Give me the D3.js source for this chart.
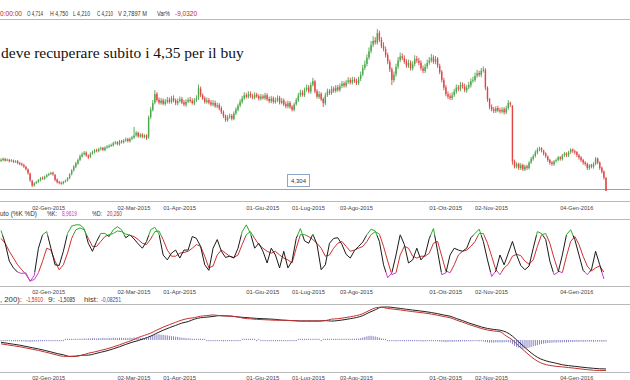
<!DOCTYPE html>
<html><head><meta charset="utf-8">
<script src="https://cdn.jsdelivr.net/npm/d3@7"></script>
<style>
html,body{margin:0;padding:0;background:#fff;overflow:hidden}
svg{display:block}
</style></head><body>
<svg id="c" width="630" height="380"></svg>
<script>
// ---- price data (one value per trading day) ----
const open=[5.38,5.40,5.44,5.40,5.41,5.37,5.38,5.34,5.36,5.29,
5.26,5.21,5.14,5.04,4.88,4.60,4.42,4.52,4.56,4.62,
4.72,4.68,4.75,4.83,4.87,4.91,4.83,4.65,4.56,4.53,
4.50,4.57,4.61,4.70,4.86,5.01,5.14,5.27,5.41,5.54,
5.63,5.69,5.57,5.52,5.66,5.71,5.79,5.75,5.83,5.87,
5.79,5.89,5.91,5.96,5.97,6.06,6.09,6.01,6.13,6.09,
6.16,6.21,6.13,6.23,6.27,6.36,6.46,6.31,6.39,6.29,
6.36,6.30,7.06,7.34,7.61,7.96,7.73,7.60,7.71,7.57,
7.65,7.73,7.64,7.79,7.71,7.59,7.69,7.76,7.63,7.54,
7.66,7.73,7.69,7.59,7.71,7.79,8.16,7.91,7.79,7.64,
7.71,7.63,7.54,7.61,7.47,7.53,7.41,7.26,7.11,6.94,
7.06,7.11,6.99,7.21,7.34,7.51,7.64,7.79,7.91,7.84,
7.96,7.87,7.81,7.93,7.87,7.77,7.86,7.79,7.91,7.76,
7.67,7.79,7.64,7.71,7.81,7.61,7.71,7.56,7.47,7.61,
7.46,7.34,7.56,7.71,7.91,8.01,7.91,8.11,8.21,8.04,
8.31,8.44,8.06,7.84,7.96,7.76,7.59,7.91,8.06,7.99,
8.16,8.07,8.21,8.11,8.26,8.36,8.27,8.41,8.49,8.39,
8.51,8.46,8.37,8.53,8.71,8.96,9.11,9.36,9.61,9.86,
10.02,9.94,10.31,10.04,9.81,9.69,9.46,9.19,8.91,8.49,
8.71,9.01,9.26,9.41,9.34,9.21,9.04,9.16,8.94,9.11,
9.31,9.24,9.16,8.94,8.84,9.01,9.16,9.24,9.36,9.19,
9.31,9.04,8.81,8.49,8.21,7.94,7.86,7.79,7.91,8.04,
8.21,8.14,8.31,8.24,8.09,8.21,8.29,8.46,8.49,8.66,
8.76,8.69,8.86,8.88,8.19,7.76,7.46,7.36,7.29,7.41,
7.33,7.27,7.36,7.24,7.41,7.61,7.50,5.36,5.14,5.26,
5.09,5.21,5.04,5.16,5.09,5.31,5.44,5.56,5.69,5.81,
5.86,5.77,5.66,5.54,5.41,5.31,5.24,5.36,5.41,5.51,
5.44,5.59,5.66,5.59,5.71,5.81,5.74,5.71,5.59,5.51,
5.41,5.31,5.26,5.09,5.21,5.14,5.26,5.46,5.31,5.11,
4.96,4.714];
const high=[5.47,5.50,5.49,5.46,5.45,5.44,5.42,5.40,5.40,5.33,
5.30,5.26,5.18,5.08,4.92,4.64,4.55,4.60,4.67,4.75,
4.77,4.80,4.87,4.91,4.95,4.96,4.86,4.69,4.60,4.57,
4.60,4.65,4.74,4.89,5.05,5.20,5.33,5.46,5.62,5.70,
5.75,5.74,5.62,5.70,5.77,5.83,5.84,5.88,5.92,5.91,
5.93,5.98,6.01,6.04,6.11,6.14,6.13,6.18,6.18,6.21,
6.27,6.26,6.28,6.34,6.68,6.52,6.50,6.44,6.44,6.40,
6.40,7.12,7.45,7.72,8.10,8.02,7.82,7.80,7.78,7.76,
7.84,7.82,7.88,7.90,7.78,7.78,7.86,7.84,7.72,7.75,
7.82,7.84,7.78,7.80,7.90,8.32,8.24,7.98,7.86,7.82,
7.80,7.72,7.72,7.70,7.62,7.60,7.48,7.32,7.16,7.14,
7.20,7.18,7.28,7.44,7.58,7.75,7.88,8.02,8.00,8.06,
8.05,7.96,8.02,8.00,7.94,7.95,7.94,8.00,7.98,7.85,
7.88,7.86,7.82,7.90,7.88,7.80,7.78,7.66,7.70,7.68,
7.52,7.62,7.80,8.00,8.12,8.10,8.20,8.32,8.30,8.40,
8.58,8.50,8.14,8.06,8.02,7.82,8.00,8.16,8.14,8.26,
8.24,8.30,8.30,8.36,8.46,8.44,8.50,8.60,8.58,8.62,
8.60,8.55,8.62,8.82,9.08,9.25,9.48,9.75,10.00,10.18,
10.15,10.46,10.40,10.15,9.95,9.78,9.55,9.28,8.98,8.82,
9.12,9.38,9.55,9.52,9.45,9.30,9.28,9.25,9.22,9.45,
9.42,9.35,9.25,9.05,9.12,9.28,9.38,9.50,9.45,9.42,
9.38,9.12,8.88,8.58,8.30,8.05,7.98,8.02,8.15,8.32,
8.30,8.42,8.40,8.35,8.30,8.42,8.55,8.62,8.78,8.88,
8.85,8.96,9.02,8.95,8.25,7.80,7.55,7.45,7.48,7.50,
7.42,7.45,7.44,7.50,7.72,7.66,7.52,5.42,5.32,5.30,
5.28,5.26,5.22,5.22,5.36,5.52,5.62,5.78,5.88,5.92,
5.90,5.80,5.70,5.58,5.45,5.36,5.40,5.46,5.56,5.55,
5.64,5.72,5.70,5.76,5.86,5.85,5.80,5.75,5.64,5.55,
5.45,5.36,5.30,5.25,5.26,5.32,5.52,5.50,5.35,5.15,
5.00,4.75];
const low=[5.33,5.36,5.34,5.36,5.31,5.33,5.29,5.30,5.24,5.20,
5.17,5.10,5.00,4.84,4.56,4.36,4.38,4.48,4.52,4.58,
4.64,4.64,4.72,4.79,4.83,4.80,4.58,4.50,4.47,4.45,
4.46,4.53,4.57,4.66,4.81,4.96,5.09,5.22,5.36,5.50,
5.58,5.53,5.44,5.48,5.61,5.66,5.70,5.70,5.78,5.75,
5.74,5.84,5.86,5.91,5.92,6.00,5.97,5.96,6.04,6.04,
6.11,6.08,6.08,6.17,6.22,6.30,6.26,6.26,6.24,6.24,
6.18,6.22,6.98,7.28,7.55,7.66,7.55,7.54,7.52,7.50,
7.58,7.58,7.58,7.63,7.52,7.52,7.62,7.56,7.48,7.46,
7.60,7.62,7.54,7.52,7.64,7.72,7.84,7.72,7.58,7.58,
7.55,7.48,7.48,7.42,7.40,7.32,7.18,7.02,6.88,6.88,
7.00,6.93,6.94,7.14,7.28,7.44,7.58,7.72,7.78,7.78,
7.80,7.75,7.74,7.80,7.70,7.70,7.74,7.72,7.68,7.60,
7.60,7.58,7.58,7.64,7.55,7.55,7.48,7.40,7.40,7.38,
7.28,7.28,7.50,7.64,7.84,7.85,7.84,8.04,7.98,7.96,
8.24,7.98,7.78,7.76,7.68,7.45,7.52,7.84,7.92,7.92,
8.00,8.00,8.04,8.04,8.18,8.20,8.20,8.34,8.32,8.32,
8.38,8.30,8.30,8.45,8.64,8.88,9.02,9.28,9.52,9.76,
9.86,9.86,9.96,9.72,9.60,9.36,9.10,8.80,8.30,8.40,
8.62,8.92,9.18,9.26,9.12,8.96,8.96,8.86,8.86,9.02,
9.16,9.06,8.86,8.76,8.76,8.92,9.08,9.16,9.12,9.10,
8.96,8.72,8.40,8.10,7.86,7.76,7.72,7.72,7.84,7.96,
8.06,8.06,8.16,8.02,8.00,8.14,8.20,8.38,8.42,8.58,
8.62,8.60,8.78,8.10,7.65,7.36,7.28,7.22,7.22,7.25,
7.20,7.20,7.16,7.18,7.34,7.46,5.22,5.08,5.08,5.02,
5.02,4.98,4.98,5.02,5.04,5.25,5.38,5.50,5.62,5.74,
5.70,5.58,5.48,5.33,5.22,5.18,5.18,5.30,5.35,5.38,
5.38,5.52,5.52,5.52,5.64,5.68,5.62,5.52,5.42,5.33,
5.22,5.18,5.02,5.02,5.08,5.07,5.20,5.24,5.02,4.88,
4.65,4.21];
const close=[5.41,5.45,5.38,5.42,5.36,5.39,5.33,5.35,5.28,5.25,
5.22,5.15,5.05,4.90,4.62,4.42,4.50,4.55,4.63,4.70,
4.68,4.76,4.82,4.86,4.90,4.85,4.64,4.55,4.52,4.50,
4.56,4.60,4.70,4.85,5.00,5.15,5.28,5.40,5.55,5.62,
5.68,5.58,5.50,5.65,5.72,5.78,5.76,5.82,5.86,5.80,
5.88,5.92,5.95,5.98,6.05,6.08,6.02,6.12,6.10,6.15,
6.20,6.14,6.22,6.28,6.35,6.45,6.32,6.38,6.30,6.35,
6.25,7.05,7.35,7.60,7.95,7.72,7.62,7.70,7.58,7.66,
7.72,7.65,7.78,7.70,7.60,7.68,7.75,7.62,7.55,7.65,
7.72,7.68,7.60,7.70,7.78,8.18,7.90,7.78,7.65,7.70,
7.62,7.55,7.60,7.48,7.52,7.40,7.25,7.10,6.95,7.05,
7.10,7.00,7.20,7.35,7.50,7.65,7.78,7.90,7.85,7.95,
7.88,7.82,7.92,7.86,7.78,7.85,7.80,7.90,7.75,7.68,
7.78,7.65,7.72,7.80,7.62,7.70,7.55,7.48,7.60,7.45,
7.35,7.55,7.72,7.90,8.00,7.92,8.10,8.20,8.05,8.30,
8.45,8.05,7.85,7.95,7.75,7.60,7.90,8.05,8.00,8.15,
8.08,8.20,8.12,8.25,8.35,8.28,8.40,8.48,8.40,8.50,
8.45,8.38,8.52,8.70,8.95,9.10,9.35,9.60,9.85,10.00,
9.95,10.30,10.05,9.80,9.70,9.45,9.20,8.90,8.50,8.70,
9.00,9.25,9.40,9.35,9.20,9.05,9.15,8.95,9.10,9.30,
9.25,9.15,8.95,8.85,9.00,9.15,9.25,9.35,9.20,9.30,
9.05,8.80,8.50,8.20,7.95,7.85,7.80,7.90,8.05,8.20,
8.15,8.30,8.25,8.10,8.20,8.30,8.45,8.50,8.65,8.75,
8.70,8.85,8.90,8.20,7.75,7.45,7.35,7.30,7.40,7.32,
7.28,7.35,7.25,7.40,7.60,7.55,5.35,5.15,5.25,5.10,
5.20,5.05,5.15,5.10,5.30,5.45,5.55,5.70,5.80,5.85,
5.78,5.65,5.55,5.40,5.30,5.25,5.35,5.40,5.50,5.45,
5.58,5.65,5.60,5.70,5.80,5.75,5.70,5.60,5.50,5.40,
5.30,5.25,5.10,5.20,5.15,5.25,5.45,5.30,5.10,4.95,
4.72,4.21];

// ---- stochastic %K / %D (one value every 2 trading days) ----
const stochStep=2;
const stochK=[88,67,38,27,20,18,19,5,15,59,
81,86,59,32,31,54,83,95,97,97,
91,67,54,70,83,83,78,89,94,89,
76,81,74,66,59,70,89,93,82,48,
40,51,56,43,56,56,78,75,62,32,
23,59,73,54,44,46,43,59,86,97,
83,59,67,54,35,59,48,27,54,27,
38,75,91,71,67,82,65,24,32,67,
75,76,65,49,43,55,62,69,81,90,
87,70,32,11,19,48,81,65,35,40,
59,40,48,75,91,54,16,19,48,59,
56,54,59,76,83,90,70,40,13,22,
48,32,51,70,48,31,24,30,59,86,
83,73,38,16,20,48,81,89,73,48,
23,16,24,54,32,8.96];
const stochD=[75,67,54,43,32,24,16,6,8,19,
38,59,56,38,24,32,51,75,89,92,
89,75,62,62,70,78,81,83,87,86,
82,80,78,73,67,65,74,86,87,73,
56,46,46,51,52,54,59,65,62,46,
27,30,48,56,51,46,44,48,65,81,
86,75,65,59,54,51,54,48,43,40,
35,59,81,81,78,73,67,59,46,48,
59,67,70,62,54,56,59,62,70,81,
86,82,62,38,16,19,48,62,59,46,
43,46,46,51,67,70,46,22,19,32,
48,54,56,62,70,83,83,67,46,24,
16,27,33,46,49,47,38,33,40,62,
81,83,67,43,22,19,46,70,78,65,
46,30,22,27,30,20.26];

// ---- MACD / signal (one value every 3 trading days), histogram daily ----
const macdStep=3;
const macdLine=[-0.20,-0.25,-0.30,-0.35,-0.415,-0.48,-0.545,-0.62,-0.70,-0.785,-0.85,
-0.855,-0.845,-0.79,
-0.69,-0.62,-0.54,-0.46,-0.36,-0.25,-0.13,-0.02,
0.13,0.24,0.36,0.52,0.67,0.80,0.92,1.04,1.12,
1.165,1.24,1.27,1.305,
1.27,1.255,1.24,1.20,
1.125,1.10,1.075,1.06,1.045,1.025,
1.035,1.02,1.005,0.99,0.99,0.99,0.99,1.01,
1.085,1.11,1.155,1.21,1.27,1.37,1.53,1.67,
1.71,
1.64,1.605,1.565,1.52,1.48,1.44,1.40,1.35,1.29,1.22,1.16,1.04,0.93,0.81,0.705,0.60,0.52,0.47,0.43,
0.21,0.00,-0.30,-0.59,-0.87,-1.10,-1.245,-1.325,-1.37,
-1.40,-1.435,-1.47,-1.51,-1.545,-1.575,-1.59,-1.591];
const signalLine=[-0.12,-0.17,-0.22,-0.27,-0.335,-0.40,-0.465,-0.54,-0.62,-0.705,-0.77,
-0.855,-0.845,-0.79,
-0.79,-0.72,-0.64,-0.56,-0.46,-0.35,-0.23,-0.12,
-0.03,0.08,0.20,0.36,0.51,0.64,0.76,0.88,0.96,
1.085,1.16,1.19,1.225,
1.27,1.255,1.24,1.20,
1.175,1.15,1.125,1.11,1.095,1.075,
1.035,1.02,1.005,0.99,0.99,0.99,0.99,1.01,
0.985,1.01,1.055,1.11,1.17,1.27,1.43,1.57,
1.71,
1.72,1.685,1.645,1.60,1.56,1.52,1.48,1.43,1.37,1.30,1.24,1.12,1.01,0.89,0.785,0.68,0.60,0.55,0.51,
0.41,0.20,-0.10,-0.39,-0.67,-0.90,-1.045,-1.14,-1.21,
-1.29,-1.335,-1.37,-1.41,-1.445,-1.475,-1.50,-1.5085];
const hist=[-0.04,-0.05,-0.04,-0.06,-0.05,-0.07,-0.06,-0.05,-0.07,-0.06,
-0.08,-0.07,-0.09,-0.08,-0.1,-0.09,-0.08,-0.07,-0.08,-0.06,
-0.07,-0.05,-0.06,-0.04,-0.05,-0.03,-0.04,-0.02,-0.03,-0.01,
-0.02,0.01,0.02,0.03,0.04,0.05,0.06,0.05,0.07,0.06,
0.08,0.07,0.09,0.08,0.1,0.09,0.08,0.1,0.09,0.11,
0.1,0.09,0.11,0.1,0.12,0.11,0.1,0.12,0.11,0.1,
0.11,0.1,0.12,0.11,0.13,0.12,0.1,0.11,0.09,0.1,
0.12,0.16,0.2,0.24,0.27,0.29,0.3,0.28,0.27,0.25,
0.24,0.22,0.2,0.19,0.17,0.16,0.14,0.12,0.11,0.1,
0.09,0.08,0.06,0.05,0.04,0.05,0.03,0.02,0.01,-0.01,
-0.02,-0.03,-0.04,-0.05,-0.06,-0.05,-0.06,-0.07,-0.06,-0.05,
-0.06,-0.05,-0.04,-0.03,-0.02,-0.01,0.01,0.02,0.01,0.02,
0.01,0.02,0.01,-0.01,0.01,-0.02,-0.01,-0.02,-0.03,-0.02,
-0.03,-0.02,-0.03,-0.04,-0.03,-0.02,-0.03,-0.02,-0.01,-0.02,
-0.03,-0.02,-0.01,0.01,0.02,0.01,0.02,0.03,0.02,0.03,
0.04,0.03,0.02,0.01,-0.01,0.01,0.02,0.01,0.02,0.03,
0.02,0.03,0.04,0.03,0.04,0.05,0.04,0.05,0.06,0.05,
0.06,0.07,0.08,0.1,0.13,0.16,0.19,0.21,0.22,0.2,
0.18,0.15,0.12,0.08,0.05,0.02,-0.01,-0.03,-0.05,-0.06,
-0.07,-0.06,-0.05,-0.06,-0.07,-0.06,-0.05,-0.06,-0.07,-0.06,
-0.07,-0.06,-0.07,-0.08,-0.07,-0.06,-0.07,-0.06,-0.05,-0.06,
-0.07,-0.08,-0.09,-0.1,-0.11,-0.1,-0.09,-0.1,-0.09,-0.08,
-0.09,-0.08,-0.07,-0.08,-0.07,-0.06,-0.07,-0.06,-0.05,-0.06,
-0.07,-0.06,-0.08,-0.1,-0.12,-0.14,-0.13,-0.14,-0.12,-0.13,
-0.12,-0.13,-0.12,-0.11,-0.12,-0.14,-0.22,-0.3,-0.36,-0.4,
-0.43,-0.45,-0.44,-0.42,-0.4,-0.37,-0.33,-0.3,-0.27,-0.24,
-0.21,-0.19,-0.17,-0.16,-0.15,-0.14,-0.13,-0.14,-0.12,-0.13,
-0.12,-0.11,-0.12,-0.11,-0.1,-0.11,-0.1,-0.09,-0.1,-0.09,
-0.1,-0.09,-0.08,-0.09,-0.08,-0.09,-0.08,-0.09,-0.08,-0.09,
-0.085,-0.08251];

// ---- axis ticks (trading-day index) ----
const tickIndex=[15,56,78,118,140,163,206,228,269];
const tickLabel=["02-Gen-2015","02-Mar-2015","01-Apr-2015","01-Giu-2015","01-Lug-2015","03-Ago-2015","01-Ott-2015","02-Nov-2015","04-Gen-2016"];
const supportLevel=4.304, supportText="4,304";
const titleText="deve recuperare subito i 4,35 per il buy";

// ---------------------------------------------------------------
const W=630,H=380;
const svg=d3.select("#c");
const SANS='"Liberation Sans",Arial,sans-serif';
const N=close.length;
const x=d3.scaleLinear().domain([0,N-1]).range([1,606]);
const yP=d3.scaleLinear().domain([3.86,10.81]).range([200,20]);
const yS=d3.scaleLinear().domain([0,100]).range([284.5,223]);
const yM=d3.scaleLinear().domain([-1.6,1.9]).range([370.72,303.52]);

const GRID="#b9b9b9";
function hline(y,c,x0=0,x1=W){svg.append("line").attr("x1",x0).attr("x2",x1).attr("y1",y).attr("y2",y).attr("stroke",c).attr("stroke-width",1);}
function text(xp,yp,s,fill="#333",size=6.5,anchor="start",len=null,family=SANS){
  const t=svg.append("text").attr("x",xp).attr("y",yp).attr("fill",fill).attr("font-size",size)
   .attr("font-family",family).attr("text-anchor",anchor).text(s);
  if(len) t.attr("textLength",len).attr("lengthAdjust","spacingAndGlyphs");
  return t;
}

// separators
[19.5,201.5,219.5,286.5,304.5,372.5].forEach(y=>hline(y,GRID));

// header
text(0,15.5,"0:00:00","#b02828",6.5,"start",22);
text(27,15.5,"O 4,714","#333",6.5,"start",16);
text(50,15.5,"H 4,750","#333",6.5,"start",18);
text(73,15.5,"L 4,210","#333",6.5,"start",17);
text(97,15.5,"C 4,210","#333",6.5,"start",16);
text(118,15.5,"V 2,7897 M","#333",6.5,"start",29);
text(157,15.5,"Var%","#333",6.5,"start",13);
text(175,15.5,"-9,0320","#c02828",6.5,"start",22);

// title annotation
text(1,57.5,titleText,"#111",15.5,"start",null,'"Liberation Serif","Times New Roman",serif');

// support line + label
hline(Math.round(yP(supportLevel))+0.5,"#8ea6cc");
svg.append("rect").attr("x",287.5).attr("y",174.5).attr("width",22).attr("height",12)
  .attr("fill","#fff").attr("stroke","#8ea6cc");
text(298.5,183.2,supportText,"#333",6,"middle");

// candles
const defs=svg.append("defs");
defs.append("clipPath").attr("id","cp").append("rect").attr("x",0).attr("y",20).attr("width",W).attr("height",181);
const UP="#4ca64c",DN="#e04646";
const cg=svg.append("g").attr("clip-path","url(#cp)");
const idx=d3.range(N);
cg.selectAll("line.w").data(idx).join("line")
  .attr("x1",i=>x(i)).attr("x2",i=>x(i))
  .attr("y1",i=>yP(Math.max(high[i],open[i],close[i])))
  .attr("y2",i=>yP(Math.min(low[i],open[i],close[i])))
  .attr("stroke",i=>close[i]>=open[i]?UP:DN).attr("stroke-width",0.9);
cg.selectAll("rect.b").data(idx).join("rect")
  .attr("x",i=>x(i)-0.7).attr("width",1.4)
  .attr("y",i=>yP(Math.max(open[i],close[i])))
  .attr("height",i=>Math.max(1,Math.abs(yP(open[i])-yP(close[i]))))
  .attr("fill",i=>close[i]>=open[i]?UP:DN);

// date labels for the three panels
[210,293.5,379.5].forEach(by=>{
  tickIndex.forEach((t,j)=>text(x(t),by,tickLabel[j],"#444",6,"start",33));
});

// stochastic label
text(0,216,"uto (%K %D)","#333",6.5,"start",37);
text(47,216,"%K:","#333",6.5,"start",10);
text(62,216,"8,9619","#c040c0",6.5,"start",15);
text(92,216,"%D:","#333",6.5,"start",10);
text(107,216,"20,260","#c02828",6.5,"start",15);

// stochastic lines with zone colours
const zones=[
  {id:"zt",y0:219,y1:yS(80),k:"#2fa82f",d:"#2fa82f"},
  {id:"zm",y0:yS(80),y1:yS(20),k:"#1a1a1a",d:"#d03030"},
  {id:"zb",y0:yS(20),y1:287,k:"#c83cc8",d:"#c83cc8"}];
zones.forEach(z=>defs.append("clipPath").attr("id",z.id).append("rect")
  .attr("x",0).attr("y",z.y0).attr("width",W).attr("height",z.y1-z.y0));
const sLine=d3.line().x((d,i)=>x(i*stochStep)).y(d=>yS(d));
zones.forEach(z=>{
  svg.append("path").attr("d",sLine(stochD)).attr("fill","none").attr("stroke",z.d).attr("stroke-width",1).attr("clip-path",`url(#${z.id})`);
  svg.append("path").attr("d",sLine(stochK)).attr("fill","none").attr("stroke",z.k).attr("stroke-width",1).attr("clip-path",`url(#${z.id})`);
});

// MACD label
text(0,301.5,", 200):","#333",6.5,"start",22);
text(26,301.5,"-1,5910","#c02828",6.5,"start",17);
text(48,301.5,"9:","#333",6.5,"start",7);
text(58,301.5,"-1,5085","#333",6.5,"start",17);
text(84,301.5,"hist:","#333",6.5,"start",14);
text(101,301.5,"-0,08251","#4646a8",6.5,"start",20);

// histogram
const z0=yM(0);
svg.append("g").selectAll("line").data(idx).join("line")
  .attr("x1",i=>x(i)).attr("x2",i=>x(i))
  .attr("y1",z0)
  .attr("y2",i=>{const v=yM(hist[i]);return Math.abs(v-z0)<1.2?(hist[i]>=0?z0-1.2:z0+1.2):v;})
  .attr("stroke","#7474bc").attr("stroke-width",0.9);

// MACD lines
const mLine=d3.line().x((d,i)=>x(i*macdStep)).y(d=>yM(d)).curve(d3.curveMonotoneX);
svg.append("path").attr("d",mLine(signalLine)).attr("fill","none").attr("stroke","#222").attr("stroke-width",1);
svg.append("path").attr("d",mLine(macdLine)).attr("fill","none").attr("stroke","#c83030").attr("stroke-width",1);
</script>
</body></html>
